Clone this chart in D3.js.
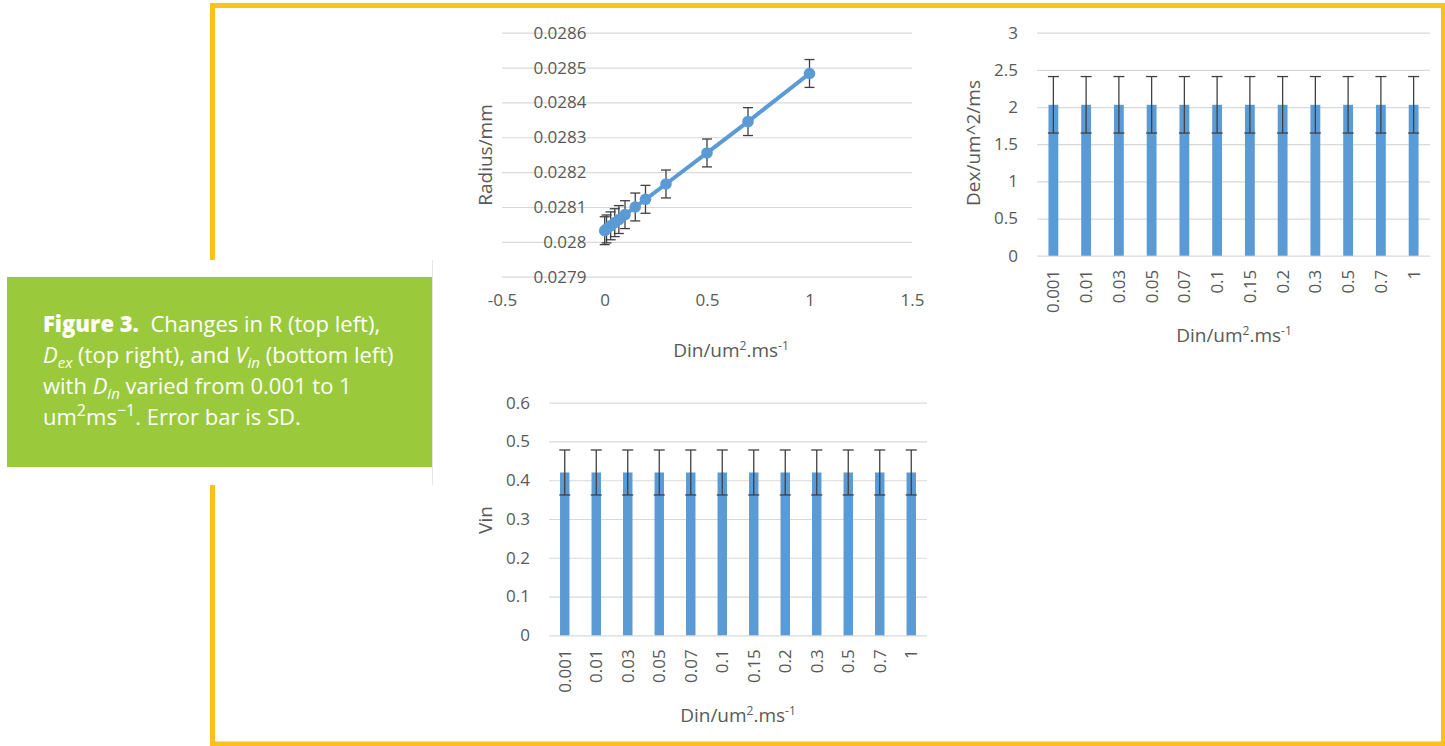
<!DOCTYPE html>
<html>
<head>
<meta charset="utf-8">
<script src="https://cdn.jsdelivr.net/npm/d3@7"></script>
<style>
  html, body { margin: 0; padding: 0; background: #fff; }
  svg { display: block; }
  .tick text { fill: #595959; font-family: "Open Sans", sans-serif; font-size: 17px; }
  .title { fill: #595959; font-family: "Open Sans", sans-serif; font-size: 19px; }
</style>
</head>
<body>
<svg id="fig" width="1445" height="746"></svg>
<script>
// Din values (x axis / categories)
const dinValues = [0.001, 0.01, 0.03, 0.05, 0.07, 0.1, 0.15, 0.2, 0.3, 0.5, 0.7, 1];
const dinLabels = ["0.001", "0.01", "0.03", "0.05", "0.07", "0.1", "0.15", "0.2", "0.3", "0.5", "0.7", "1"];

// top left: radius
const radiusMean = [0.028032, 0.028037, 0.028046, 0.028055, 0.028064, 0.028078, 0.0281, 0.028122, 0.028166, 0.028255, 0.028345, 0.028483];
const radiusSD = [0.00004, 0.00004, 0.00004, 0.00004, 0.00004, 0.00004, 0.00004, 0.00004, 0.00004, 0.00004, 0.00004, 0.00004];
const radiusTicks = [0.0279, 0.028, 0.0281, 0.0282, 0.0283, 0.0284, 0.0285, 0.0286];
const radiusXTicks = [-0.5, 0, 0.5, 1, 1.5];

// top right: Dex
const dexMean = [2.03, 2.03, 2.03, 2.03, 2.03, 2.03, 2.03, 2.03, 2.03, 2.03, 2.03, 2.03];
const dexSD = [0.38, 0.38, 0.38, 0.38, 0.38, 0.38, 0.38, 0.38, 0.38, 0.38, 0.38, 0.38];
const dexTicks = [0, 0.5, 1, 1.5, 2, 2.5, 3];

// bottom left: Vin
const vinMean = [0.42, 0.42, 0.42, 0.42, 0.42, 0.42, 0.42, 0.42, 0.42, 0.42, 0.42, 0.42];
const vinSD = [0.058, 0.058, 0.058, 0.058, 0.058, 0.058, 0.058, 0.058, 0.058, 0.058, 0.058, 0.058];
const vinTicks = [0, 0.1, 0.2, 0.3, 0.4, 0.5, 0.6];

const blue = '#5b9bd5';
const gridColor = '#d9d9d9';
const errColor = '#404040';
const frameColor = '#fcc01f';

const svg = d3.select('#fig');

// frame with a gap on the left for the caption box
svg.append('path')
    .attr('d', 'M212.5,260 L212.5,5.5 L1443.5,5.5 L1443.5,744 L212.5,744 L212.5,485')
    .attr('fill', 'none')
    .attr('stroke', frameColor)
    .attr('stroke-width', 5);

svg.append('line')
    .attr('x1', 432.5).attr('x2', 432.5).attr('y1', 260).attr('y2', 485)
    .attr('stroke', '#e6e6e6').attr('stroke-width', 1);

// caption box
svg.append('rect')
    .attr('x', 7).attr('y', 277).attr('width', 425).attr('height', 190)
    .attr('fill', '#9aca3c');

const caption = svg.append('text')
    .attr('fill', '#fff')
    .style('font-family', '"Open Sans", sans-serif')
    .style('font-size', '22px');

function capLine(y, parts) {
    const t = caption.append('tspan').attr('x', 43).attr('y', y);
    parts.forEach(p => {
        const s = t.append('tspan').text(p.t);
        if (p.b) s.style('font-weight', 800);
        if (p.i) s.style('font-style', 'italic');
        if (p.sub) s.attr('font-size', '15px').attr('dy', 5);
        if (p.sup) s.attr('font-size', '16px').attr('dy', -9);
        if (p.back) s.attr('dy', p.back);
    });
    return t;
}

capLine(332, [{ t: 'Figure 3.', b: true }, { t: '\u00a0 Changes in R (top left),' }]);
capLine(363, [{ t: 'D', i: true }, { t: 'ex', i: true, sub: true }, { t: ' (top right), and ', back: -5 },
    { t: 'V', i: true }, { t: 'in', i: true, sub: true }, { t: ' (bottom left)', back: -5 }]);
capLine(394, [{ t: 'with ' }, { t: 'D', i: true }, { t: 'in', i: true, sub: true },
    { t: ' varied from 0.001 to 1', back: -5 }]);
capLine(425, [{ t: 'um' }, { t: '2', sup: true }, { t: 'ms', back: 9 }, { t: '\u22121', sup: true },
    { t: '. Error bar is SD.', back: 9 }]);

// helpers
function gridAxis(g, scale, ticks, x0, w) {
    g.append('g')
        .attr('transform', `translate(${x0},0)`)
        .call(d3.axisLeft(scale).tickValues(ticks).tickSize(-w).tickFormat(''))
        .call(a => a.select('.domain').remove())
        .call(a => a.selectAll('line').attr('stroke', gridColor).attr('stroke-width', 1.2));
}

function axisTitle(x, y, rotate) {
    const t = svg.append('text')
        .attr('class', 'title')
        .attr('text-anchor', 'middle')
        .attr('transform', `translate(${x},${y})` + (rotate ? ' rotate(-90)' : ''))
        .attr('dy', '0.35em');
    return t;
}

function dinTitle(x, y) {
    const t = axisTitle(x, y, false);
    t.append('tspan').text('Din/um');
    t.append('tspan').text('2').attr('font-size', '12px').attr('dy', -7);
    t.append('tspan').text('.ms').attr('dy', 7);
    t.append('tspan').text('-1').attr('font-size', '12px').attr('dy', -7);
}

function errorBars(g, data, xf, yf, cap) {
    const eb = g.append('g').attr('stroke', errColor).attr('stroke-width', 1.3);
    data.forEach(d => {
        const x = xf(d), y1 = yf(d.m - d.s), y2 = yf(d.m + d.s);
        eb.append('line').attr('x1', x).attr('x2', x).attr('y1', y1).attr('y2', y2);
        eb.append('line').attr('x1', x - cap / 2).attr('x2', x + cap / 2).attr('y1', y1).attr('y2', y1);
        eb.append('line').attr('x1', x - cap / 2).attr('x2', x + cap / 2).attr('y1', y2).attr('y2', y2);
    });
}

// ---------- top left: radius scatter/line ----------
{
    const x = d3.scaleLinear().domain([-0.5, 1.5]).range([502, 912]);
    const y = d3.scaleLinear().domain([0.0279, 0.0286]).range([276.7, 32.7]);
    const g = svg.append('g');
    gridAxis(g, y, radiusTicks, 502, 410);

    // y labels sit next to x = 0
    g.append('g')
        .attr('transform', `translate(${x(0)},0)`)
        .call(d3.axisLeft(y).tickValues(radiusTicks).tickSize(0).tickPadding(18)
            .tickFormat(d => String(+d.toFixed(4))))
        .call(a => a.select('.domain').remove());

    g.append('g')
        .attr('transform', `translate(0,${y(0.0279)})`)
        .call(d3.axisBottom(x).tickValues(radiusXTicks).tickSize(0).tickPadding(17)
            .tickFormat(d => String(d)))
        .call(a => a.select('.domain').remove());

    const data = dinValues.map((v, i) => ({ v, m: radiusMean[i], s: radiusSD[i] }));
    errorBars(g, data, d => x(d.v), y, 10);

    g.append('path')
        .datum(data)
        .attr('fill', 'none')
        .attr('stroke', blue)
        .attr('stroke-width', 4)
        .attr('stroke-linejoin', 'round')
        .attr('d', d3.line().x(d => x(d.v)).y(d => y(d.m)));

    g.append('g').selectAll('circle')
        .data(data)
        .enter().append('circle')
        .attr('cx', d => x(d.v))
        .attr('cy', d => y(d.m))
        .attr('r', 5.8)
        .attr('fill', blue);

    axisTitle(485, 155, true).text('Radius/mm');
    dinTitle(731, 350);
}

// bar chart with error bars
function barChart(means, sds, ticks, xr, yr, yTitle, yTitlePos, xTitlePos) {
    const x = d3.scaleBand().domain(dinLabels).range(xr).paddingInner(0.7).paddingOuter(0.35);
    const y = d3.scaleLinear().domain([ticks[0], ticks[ticks.length - 1]]).range(yr);
    const g = svg.append('g');
    gridAxis(g, y, ticks, xr[0], xr[1] - xr[0]);

    g.append('g')
        .attr('transform', `translate(${xr[0]},0)`)
        .call(d3.axisLeft(y).tickValues(ticks).tickSize(0).tickPadding(19).tickFormat(d => String(d)))
        .call(a => a.select('.domain').remove());

    g.append('g')
        .attr('transform', `translate(0,${yr[0]})`)
        .call(d3.axisBottom(x).tickSize(0).tickPadding(0))
        .call(a => a.select('.domain').remove())
        .call(a => a.selectAll('text')
            .attr('text-anchor', 'end')
            .attr('transform', 'rotate(-90)')
            .attr('x', -14).attr('y', 0).attr('dy', '0.35em'));

    const data = dinLabels.map((c, i) => ({ c, m: means[i], s: sds[i] }));
    g.append('g').selectAll('rect')
        .data(data)
        .enter().append('rect')
        .attr('x', d => x(d.c))
        .attr('width', x.bandwidth())
        .attr('y', d => y(d.m))
        .attr('height', d => y(0) - y(d.m))
        .attr('fill', blue);

    errorBars(g, data, d => x(d.c) + x.bandwidth() / 2, y, 11);

    axisTitle(yTitlePos[0], yTitlePos[1], true).text(yTitle);
    dinTitle(xTitlePos[0], xTitlePos[1]);
}

barChart(dexMean, dexSD, dexTicks, [1037, 1430], [255.7, 32.7], 'Dex/um^2/ms', [973, 143], [1234, 335]);
barChart(vinMean, vinSD, vinTicks, [549, 927], [635.3, 402.7], 'Vin', [485, 520], [738, 715]);
</script>
</body>
</html>
